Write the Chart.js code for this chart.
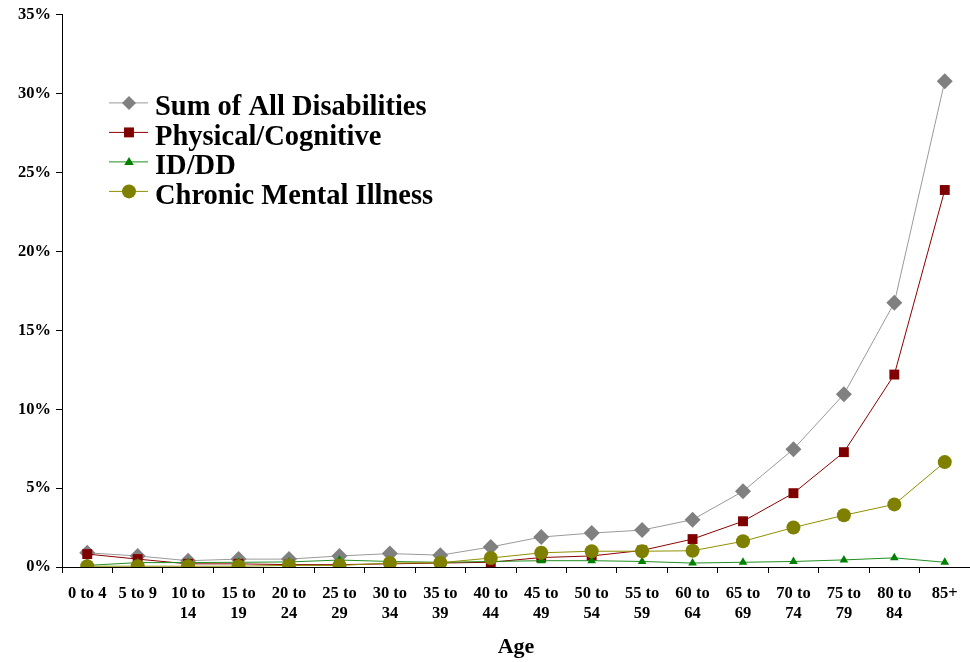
<!DOCTYPE html>
<html>
<head>
<meta charset="utf-8">
<script src="https://cdn.jsdelivr.net/npm/chart.js@4/dist/chart.umd.min.js"></script>
<style>
  html, body { margin: 0; padding: 0; background: #ffffff; }
  #wrap { width: 970px; height: 662px; }
</style>
</head>
<body>
<div id="wrap"><canvas id="chart" width="970" height="662"></canvas></div>
<script>
// Age groups (multi-line labels are arrays)
const ageGroups = [
  '0 to 4', '5 to 9', ['10 to', '14'], ['15 to', '19'], ['20 to', '24'],
  ['25 to', '29'], ['30 to', '34'], ['35 to', '39'], ['40 to', '44'],
  ['45 to', '49'], ['50 to', '54'], ['55 to', '59'], ['60 to', '64'],
  ['65 to', '69'], ['70 to', '74'], ['75 to', '79'], ['80 to', '84'], '85+'
];

// Prevalence by age group, in percent
const sumAllDisabilities = [0.9, 0.7, 0.4, 0.5, 0.5, 0.7, 0.85, 0.75, 1.27, 1.9, 2.15, 2.34, 3.0, 4.8, 7.47, 10.95, 16.75, 30.8];
const physicalCognitive  = [0.82, 0.5, 0.2, 0.2, 0.15, 0.15, 0.2, 0.25, 0.3, 0.6, 0.7, 1.05, 1.77, 2.9, 4.68, 7.28, 12.2, 23.9];
const idDd               = [0.1, 0.28, 0.28, 0.3, 0.32, 0.44, 0.35, 0.3, 0.35, 0.4, 0.4, 0.35, 0.25, 0.3, 0.35, 0.45, 0.58, 0.3];
const chronicMental      = [0.05, 0.05, 0.05, 0.05, 0.1, 0.1, 0.25, 0.27, 0.57, 0.9, 1.0, 1.0, 1.03, 1.63, 2.5, 3.28, 3.97, 6.65];

// Y axis ticks
const yTicks = [0, 5, 10, 15, 20, 25, 30, 35];

const serif = "'Liberation Serif', 'Times New Roman', serif";

// Draw a legend marker by shape name
function drawMarker(ctx, shape, x, y, r) {
  ctx.beginPath();
  if (shape === 'rectRot') {
    ctx.moveTo(x - r, y); ctx.lineTo(x, y - r); ctx.lineTo(x + r, y); ctx.lineTo(x, y + r);
    ctx.closePath();
  } else if (shape === 'rect') {
    const s = r * Math.SQRT1_2;
    ctx.rect(x - s, y - s, 2 * s, 2 * s);
  } else if (shape === 'triangle') {
    ctx.moveTo(x, y - r); ctx.lineTo(x + r * 0.95, y + r * 0.6); ctx.lineTo(x - r * 0.95, y + r * 0.6);
    ctx.closePath();
  } else {
    ctx.arc(x, y, r, 0, Math.PI * 2);
  }
  ctx.fill();
}

// Legend drawn inside the plot area, top-left
const insideLegend = {
  id: 'insideLegend',
  afterDatasetsDraw(chart) {
    const ctx = chart.ctx;
    const area = chart.chartArea;
    const lx0 = area.left + 47, lx1 = area.left + 86, mx = area.left + 67, tx = area.left + 93;
    const top = area.top + 88, step = 29.5;
    ctx.save();
    chart.data.datasets.forEach((ds, i) => {
      const y = top + i * step;
      ctx.strokeStyle = ds.borderColor;
      ctx.lineWidth = 1;
      ctx.beginPath(); ctx.moveTo(lx0, y); ctx.lineTo(lx1, y); ctx.stroke();
      ctx.fillStyle = ds.pointBackgroundColor;
      drawMarker(ctx, ds.pointStyle, mx, y, ds.legendRadius);
      ctx.fillStyle = '#000000';
      ctx.font = 'bold 28.5px ' + serif;
      ctx.textAlign = 'left';
      ctx.textBaseline = 'middle';
      ctx.fillText(ds.label, tx, y + 5);
    });
    ctx.restore();
  }
};

const datasets = [
  {
    label: 'Sum of All Disabilities', data: sumAllDisabilities,
    borderColor: '#9a9a9a', pointBackgroundColor: '#808080', pointBorderColor: '#808080',
    pointStyle: 'rectRot', pointRadius: 8, legendRadius: 7, order: 3
  },
  {
    label: 'Physical/Cognitive', data: physicalCognitive,
    borderColor: '#8b0000', pointBackgroundColor: '#800000', pointBorderColor: '#800000',
    pointStyle: 'rect', pointRadius: 7, legendRadius: 7, order: 2
  },
  {
    label: 'ID/DD', data: idDd,
    borderColor: '#1f8f1f', pointBackgroundColor: '#008000', pointBorderColor: '#008000',
    pointStyle: 'triangle', pointRadius: 5, legendRadius: 5, order: 1
  },
  {
    label: 'Chronic Mental Illness', data: chronicMental,
    borderColor: '#8f8f00', pointBackgroundColor: '#808000', pointBorderColor: '#808000',
    pointStyle: 'circle', pointRadius: 7, legendRadius: 7, order: 0
  }
].map(d => Object.assign({ borderWidth: 1, pointBorderWidth: 0, tension: 0, fill: false }, d));

new Chart(document.getElementById('chart'), {
  type: 'line',
  data: { labels: ageGroups, datasets },
  plugins: [insideLegend],
  options: {
    responsive: false,
    animation: false,
    devicePixelRatio: 1,
    layout: { autoPadding: false, padding: { top: 14, right: 0, bottom: 0, left: 0 } },
    plugins: { legend: { display: false }, tooltip: { enabled: false } },
    scales: {
      x: {
        type: 'category',
        offset: true,
        grid: { display: true, offset: true, drawOnChartArea: false, drawTicks: true, tickLength: 6, color: '#000000', lineWidth: 1 },
        border: { display: true, color: '#000000', width: 1 },
        ticks: {
          color: '#000000', autoSkip: false, maxRotation: 0, minRotation: 0, padding: 11,
          font: { family: serif, size: 16.5, weight: 'bold', lineHeight: 1.21 }
        },
        title: {
          display: true, text: 'Age', color: '#000000',
          font: { family: serif, size: 22, weight: 'bold' },
          padding: { top: 4, bottom: 1 }
        },
        afterFit(scale) {
          scale.height = 95;
          scale.paddingLeft = 0;
          scale.paddingRight = 0;
        }
      },
      y: {
        min: 0, max: 35,
        afterBuildTicks(scale) { scale.ticks = yTicks.map(v => ({ value: v })); },
        grid: { display: true, drawOnChartArea: false, drawTicks: true, tickLength: 6, color: '#000000', lineWidth: 1 },
        border: { display: true, color: '#000000', width: 1 },
        ticks: {
          color: '#000000', padding: 5,
          font: { family: serif, size: 16.5, weight: 'bold' },
          callback: v => v + '%'
        },
        afterFit(scale) { scale.width = 62; }
      }
    }
  }
});
</script>
</body>
</html>
